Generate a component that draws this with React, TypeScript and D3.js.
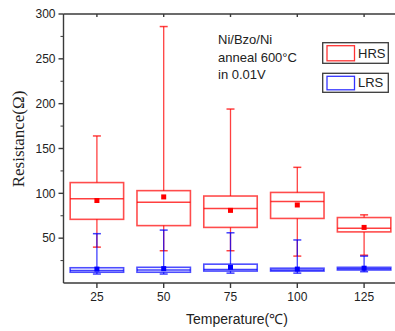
import { useEffect, useRef } from 'react';
import * as d3 from 'd3';

const temps = [25, 50, 75, 100, 125];
const yTicks = [50, 100, 150, 200, 250, 300];
const yMinorTicks = [25, 75, 125, 175, 225, 275];

// HRS (high resistance state)
const hrsMax = [164, 286, 194, 129, 76];
const hrsQ3 = [112, 103, 97, 101, 73];
const hrsMedian = [94, 90, 83, 91, 61];
const hrsQ1 = [71, 64, 62, 72, 57];
const hrsMin = [40, 36, 36, 30, 31];
const hrsMean = [92, 96, 81, 87, 62];

// LRS (low resistance state)
const lrsMax = [55, 59, 56, 48, 30];
const lrsQ3 = [17, 17.5, 21, 16.5, 17.5];
const lrsMedian = [14, 14.5, 15, 14.5, 16];
const lrsQ1 = [12, 12, 13.3, 13.3, 14.5];
const lrsMin = [10, 10, 11, 11, 12.6];
const lrsMean = [15.5, 16, 17.5, 15.5, 16.5];

const annotation = ['Ni/Bzo/Ni', 'anneal 600°C', 'in 0.01V'];

export default function App() {
  const svgRef = useRef<SVGSVGElement>(null);

  useEffect(() => {
    if (!svgRef.current) return;
    const svg = d3.select(svgRef.current);
    svg.selectAll('*').remove();

    const left = 63.5, right = 397.5, top = 14, bottom = 283;
    const x = d3.scaleLinear().domain([12.5, 137.5]).range([left, right]);
    const y = d3.scaleLinear().domain([0, 300]).range([bottom, top]);
    const boxW = (x(45) - x(25)) * 1.0; // box spans 80% of the 25-degree spacing
    const capW = 8;
    const axisColor = '#3a3a3a';
    const font = 'Arial, "Liberation Sans", sans-serif';

    const drawSeries = (
      color: string,
      max: number[], q3: number[], med: number[], q1: number[], min: number[], mean: number[]
    ) => {
      const g = svg.append('g');
      temps.forEach((t, i) => {
        const cx = x(t);
        // whiskers
        g.append('line').attr('x1', cx).attr('x2', cx).attr('y1', y(q3[i])).attr('y2', y(max[i]))
          .attr('stroke', color).attr('stroke-width', 1.3).attr('stroke-opacity', 0.75);
        g.append('line').attr('x1', cx).attr('x2', cx).attr('y1', y(q1[i])).attr('y2', y(min[i]))
          .attr('stroke', color).attr('stroke-width', 1.3).attr('stroke-opacity', 0.75);
        [max[i], min[i]].forEach(v => {
          g.append('line').attr('x1', cx - capW / 2).attr('x2', cx + capW / 2).attr('y1', y(v)).attr('y2', y(v))
            .attr('stroke', color).attr('stroke-width', 1.5).attr('stroke-opacity', 0.75);
        });
        // box
        g.append('rect').attr('x', cx - boxW / 2).attr('y', y(q3[i]))
          .attr('width', boxW).attr('height', y(q1[i]) - y(q3[i]))
          .attr('fill', 'none').attr('stroke', color).attr('stroke-width', 1.6).attr('stroke-opacity', 0.7);
        g.append('line').attr('x1', cx - boxW / 2).attr('x2', cx + boxW / 2).attr('y1', y(med[i])).attr('y2', y(med[i]))
          .attr('stroke', color).attr('stroke-width', 1.5).attr('stroke-opacity', 0.75);
        // mean
        g.append('rect').attr('x', cx - 2.5).attr('y', y(mean[i]) - 2.5).attr('width', 5).attr('height', 5)
          .attr('fill', color);
      });
    };

    drawSeries('#ff0000', hrsMax, hrsQ3, hrsMedian, hrsQ1, hrsMin, hrsMean);
    drawSeries('#0000ff', lrsMax, lrsQ3, lrsMedian, lrsQ1, lrsMin, lrsMean);

    // frame
    const ax = svg.append('g').attr('stroke', axisColor).attr('stroke-width', 1.4);
    ax.append('line').attr('x1', left).attr('x2', left).attr('y1', top).attr('y2', bottom);
    ax.append('line').attr('x1', left).attr('x2', right).attr('y1', bottom).attr('y2', bottom);
    ax.append('line').attr('x1', left).attr('x2', right).attr('y1', top).attr('y2', top);
    ax.append('line').attr('x1', right).attr('x2', right).attr('y1', top).attr('y2', bottom);

    // y ticks
    yTicks.forEach(v => {
      ax.append('line').attr('x1', left - 5).attr('x2', left).attr('y1', y(v)).attr('y2', y(v));
    });
    yMinorTicks.forEach(v => {
      ax.append('line').attr('x1', left - 3).attr('x2', left).attr('y1', y(v)).attr('y2', y(v)).attr('stroke-width', 1);
    });
    // x ticks
    temps.forEach(t => {
      ax.append('line').attr('x1', x(t)).attr('x2', x(t)).attr('y1', bottom).attr('y2', bottom + 5);
      ax.append('line').attr('x1', x(t)).attr('x2', x(t)).attr('y1', top).attr('y2', top + 3);
    });

    svg.append('g').selectAll('text').data(yTicks).enter().append('text')
      .attr('x', left - 8).attr('y', d => y(d)).attr('dy', '0.35em')
      .attr('text-anchor', 'end').attr('font-family', font).attr('font-size', 12).attr('fill', '#222')
      .text(d => d);

    svg.append('g').selectAll('text').data(temps).enter().append('text')
      .attr('x', d => x(d)).attr('y', 301)
      .attr('text-anchor', 'middle').attr('font-family', font).attr('font-size', 12).attr('fill', '#222')
      .text(d => d);

    svg.append('text').attr('x', 237).attr('y', 324)
      .attr('text-anchor', 'middle').attr('font-family', font).attr('font-size', 14).attr('fill', '#222')
      .text('Temperature(℃)');

    svg.append('text').attr('transform', 'translate(23.5,139) rotate(-90)')
      .attr('text-anchor', 'middle').attr('font-family', '"Liberation Serif", "Times New Roman", serif')
      .attr('font-size', 17).attr('fill', '#222')
      .text('Resistance(Ω)');

    svg.append('g').selectAll('text').data(annotation).enter().append('text')
      .attr('x', 218).attr('y', (_, i) => 44.3 + i * 17.5)
      .attr('font-family', font).attr('font-size', 13).attr('fill', '#222')
      .text(d => d);

    // legend
    const legend = [
      { label: 'HRS', color: '#ff0000', y0: 42.7, h: 20.6 },
      { label: 'LRS', color: '#0000ff', y0: 73.3, h: 19 }
    ];
    legend.forEach(l => {
      svg.append('rect').attr('x', 322.7).attr('y', l.y0).attr('width', 65.6).attr('height', l.h)
        .attr('fill', '#fff').attr('stroke', axisColor).attr('stroke-width', 1.3);
      svg.append('rect').attr('x', 327).attr('y', l.y0 + 3).attr('width', 27.5).attr('height', l.h - 5.5)
        .attr('fill', 'none').attr('stroke', l.color).attr('stroke-width', 1.3).attr('stroke-opacity', 0.8);
      svg.append('text').attr('x', 358).attr('y', l.y0 + l.h / 2).attr('dy', '0.36em')
        .attr('font-family', font).attr('font-size', 13).attr('fill', '#222')
        .text(l.label);
    });
  }, []);

  return (
    <svg
      ref={svgRef}
      width={395}
      height={331}
      style={{ position: 'absolute', left: 0, top: 0, background: '#fff' }}
    />
  );
}
